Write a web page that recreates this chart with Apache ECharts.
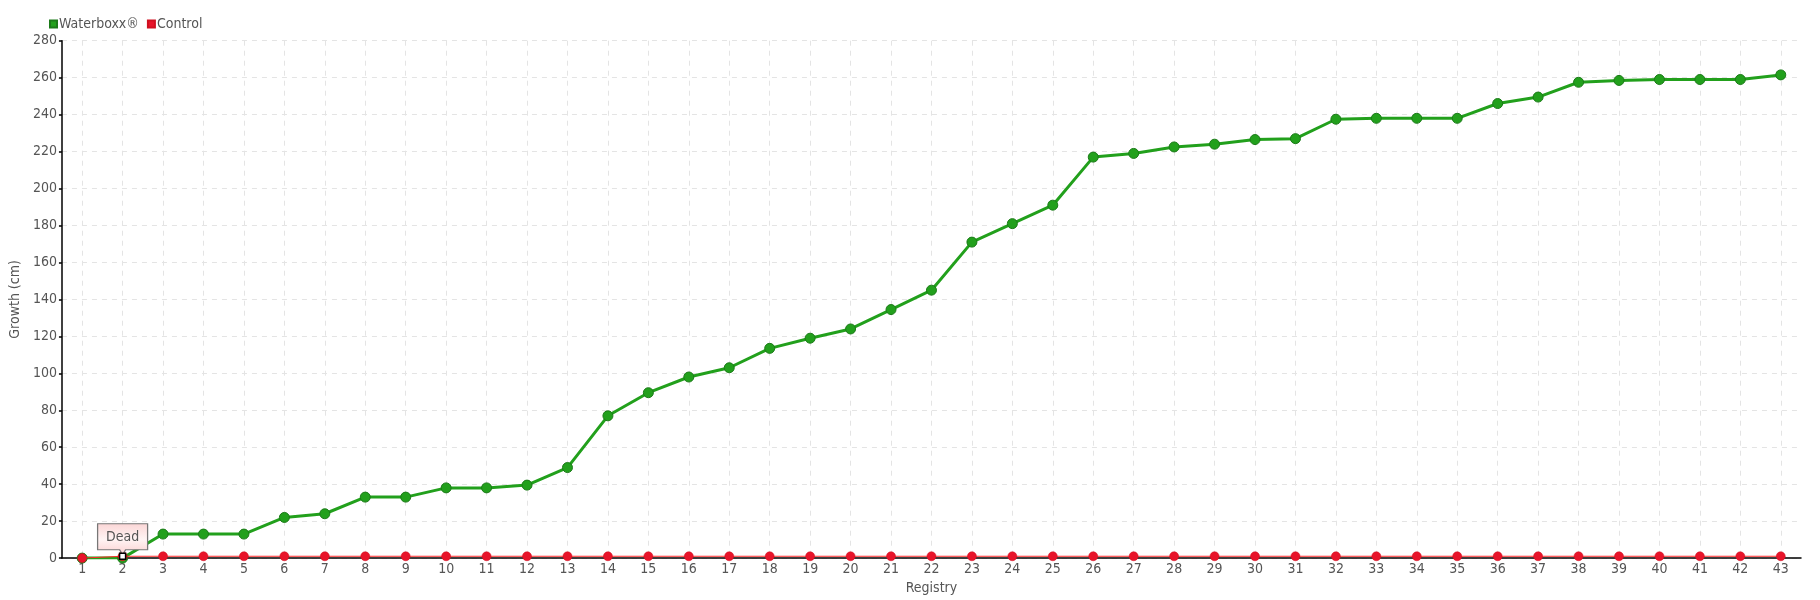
<!DOCTYPE html>
<html><head><meta charset="utf-8">
<script src="https://cdn.jsdelivr.net/npm/echarts@6/dist/echarts.min.js"></script>
<style>html,body{margin:0;padding:0;background:#fff}#c{width:1820px;height:600px}</style>
</head><body><div id="c"></div>
<script>
const categories = ['1','2','3','4','5','6','7','8','9','10','11','12','13','14','15','16','17','18','19','20','21','22','23','24','25','26','27','28','29','30','31','32','33','34','35','36','37','38','39','40','41','42','43'];
const waterboxx = [0,0,13,13,13,22,24,33,33,38,38,39.5,49,77,89.5,98,103,113.5,119,124,134.5,145,171,181,191,217,219,222.5,224,226.5,227,237.5,238,238,238,246,249.5,257.5,258.5,259,259,259,261.5];
const control = [0,1,1,1,1,1,1,1,1,1,1,1,1,1,1,1,1,1,1,1,1,1,1,1,1,1,1,1,1,1,1,1,1,1,1,1,1,1,1,1,1,1,1];
const deadIndex = 1;
const deadLabel = 'Dead';

const FONT = '"DejaVu Sans Condensed","Liberation Sans Narrow",sans-serif';
const chart = echarts.init(document.getElementById('c'));
chart.setOption({
  animation: false,
  textStyle: {fontFamily: FONT, color: '#555'},
  legend: {
    left: 44, top: 12, itemWidth: 7, itemHeight: 7, itemGap: 8,
    icon: 'rect',
    textStyle: {fontFamily: FONT, fontSize: 14, color: '#555', padding: [0,0,0,-3]},
    data: ['Waterboxx®', 'Control']
  },
  grid: {left: 60, right: 19, top: 40.7, bottom: 40, containLabel: false},
  xAxis: {
    type: 'category', data: categories, boundaryGap: true,
    name: 'Registry', nameLocation: 'middle', nameGap: 20,
    nameTextStyle: {fontFamily: FONT, fontSize: 14, color: '#555'},
    axisLine: {lineStyle: {color: '#000', width: 1.5}},
    axisTick: {show: false, alignWithLabel: true},
    axisLabel: {fontFamily: FONT, fontSize: 14, color: '#555', margin: 4},
    splitLine: {show: true, alignWithLabel: true, lineStyle: {color: '#e4e4e4', type: [5,5], width: 1}}
  },
  yAxis: {
    type: 'value', min: 0, max: 280, interval: 20,
    name: 'Growth (cm)', nameLocation: 'middle', nameGap: 33,
    nameTextStyle: {fontFamily: FONT, fontSize: 14, color: '#555'},
    axisLine: {show: true, lineStyle: {color: '#000', width: 1.5}},
    axisTick: {show: true, length: 3, lineStyle: {color: '#000', width: 1.5}},
    axisLabel: {fontFamily: FONT, fontSize: 14, color: '#555', margin: 5},
    splitLine: {show: true, lineStyle: {color: '#e4e4e4', type: [5,5], width: 1}}
  },
  series: [
    {
      name: 'Waterboxx®', type: 'line', data: waterboxx,
      symbol: 'circle', symbolSize: 10,
      lineStyle: {color: '#22a01c', width: 3},
      itemStyle: {color: '#22a01c', borderColor: '#1b7a18', borderWidth: 1},
      z: 2
    },
    {
      name: 'Control', type: 'line', data: control,
      symbol: 'circle', symbolSize: 9,
      lineStyle: {color: '#ff2a2a', width: 1},
      itemStyle: {color: '#e8142a', borderColor: '#d01020', borderWidth: 0.5},
      z: 3,
      markPoint: {
        silent: true,
        data: [
          {
            coord: [deadIndex, control[deadIndex]],
            symbol: 'path://M0,0 H50 V26 H28 L25,31 L22,26 H0 Z',
            symbolSize: [50, 31],
            symbolKeepAspect: false,
            symbolOffset: [0, -17],
            itemStyle: {
              color: {type: 'linear', x: 0, y: 0, x2: 0, y2: 1, colorStops: [
                {offset: 0, color: '#fbd6d6'}, {offset: 0.5, color: '#fff4f4'}, {offset: 1, color: '#fbd0d0'}]},
              borderColor: '#777', borderWidth: 1
            },
            label: {show: true, formatter: deadLabel, fontFamily: FONT, fontSize: 14, color: '#555', offset: [0, -2]}
          },
          {
            coord: [deadIndex, control[deadIndex]],
            symbol: 'rect', symbolSize: 6,
            itemStyle: {color: '#fff', borderColor: '#000', borderWidth: 1.5},
            label: {show: false}
          }
        ]
      }
    }
  ]
});
</script>
</body></html>
